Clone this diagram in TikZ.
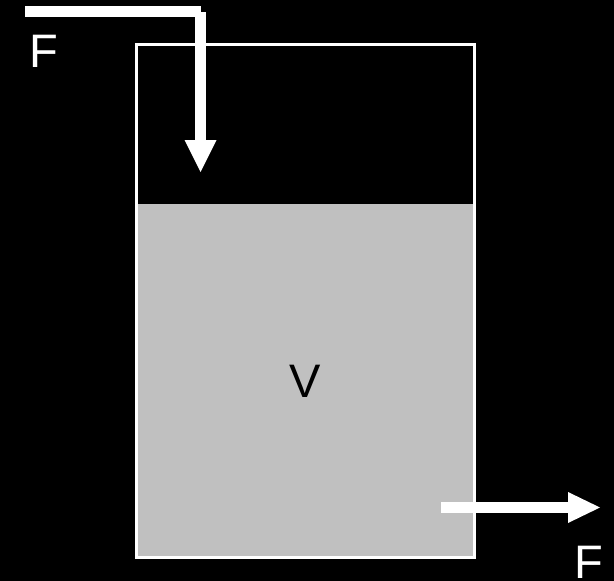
\documentclass[tikz,border=0pt]{standalone}
\usepackage{fontspec}
\setmainfont{Liberation Sans}
\begin{document}
\begin{tikzpicture}[x=1pt,y=-1pt,
  pipe/.style={white,line width=11pt},
  head/.style={fill=white,draw=none},
  lbl/.style={inner sep=0pt,anchor=base,font=\fontsize{47}{47}\selectfont}]
\fill[black] (0,0) rectangle (614,581);
\useasboundingbox (0,0) rectangle (614,581);
% liquid
\fill[fill={rgb,255:red,192;green,192;blue,192}] (137,204) rectangle (473,556);
% tank
\draw[white,line width=3pt] (136.5,44.5) rectangle (474.5,557);
% inlet
\coordinate (inA) at (25,11.7);
\coordinate (inB) at (201,11.7);
\coordinate (inC) at (200.5,12);
\coordinate (inD) at (200.5,141);
\draw[pipe] (inA) -- (inB);
\draw[pipe] (inC) -- (inD);
\fill[head] (184.5,140) -- (216.5,140) -- (200.5,172) -- cycle;
% outlet
\coordinate (outA) at (441,507.5);
\coordinate (outB) at (569,507.5);
\draw[pipe] (outA) -- (outB);
\fill[head] (568,492) -- (600,507.5) -- (568,523) -- cycle;
% labels
\node[lbl,white] (Fin) at (44,67.7) {F};
\node[lbl,white] (Fout) at (589,578.5) {F};
\node[lbl,black] (V) at (305.3,397.7) {V};
\end{tikzpicture}
\end{document}
